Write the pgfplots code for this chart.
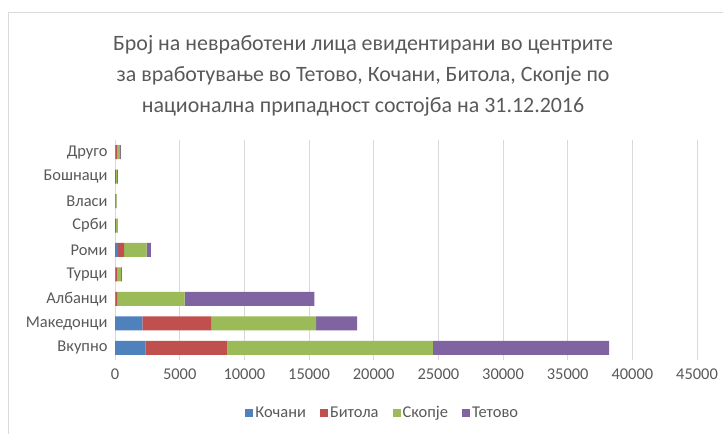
\documentclass[border=0pt]{standalone}
\usepackage{pgfplots}
\pgfplotsset{compat=1.18}
\usepackage{fontspec}
\setmainfont{Carlito}
\definecolor{cKoc}{HTML}{4F81BD}
\definecolor{cBit}{HTML}{C0504D}
\definecolor{cSko}{HTML}{9BBB59}
\definecolor{cTet}{HTML}{8064A2}
\definecolor{txtgray}{HTML}{595959}
\definecolor{gridgray}{HTML}{D9D9D9}
\begin{document}
\begin{tikzpicture}[x=1bp,y=1bp]
\path[use as bounding box] (0,0) rectangle (723,434);
\draw[gridgray, line width=1bp] (8,0) -- (8,421) -- (723,421);
\node[align=center, text=txtgray, font=\fontsize{22}{31}\selectfont] at (363,358)
  {Број на невработени лица евидентирани во центрите\\
   за вработување во Тетово, Кочани, Битола, Скопје по\\
   национална припадност состојба на 31.12.2016};
\begin{axis}[
  at={(115bp,74bp)}, anchor=south west,
  scale only axis, width=582bp, height=220bp,
  xbar stacked, bar width=14bp,
  xmin=0, xmax=45000, ymin=-0.5, ymax=8.5,
  xtick={0,5000,...,45000},
  ytick={0,...,8},
  yticklabels={Вкупно,Македонци,Албанци,Турци,Роми,Срби,Власи,Бошнаци,Друго},
  scaled x ticks=false,
  /pgf/number format/assume math mode=true,
  xticklabel={\pgfmathprintnumber[fixed,1000 sep={}]{\tick}},
  xmajorgrids, grid style={gridgray, line width=0.7bp},
  axis lines*=left,
  y axis line style={gridgray, line width=0.8bp},
  x axis line style={draw=none},
  major tick length=0pt,
  tick label style={text=txtgray, font=\fontsize{16.5}{18}\selectfont},
  yticklabel style={xshift=-4bp},
  xticklabel style={yshift=-5bp},
  legend columns=4,
  legend style={draw=none, at={(0.46,-0.241)}, anchor=center,
    font=\fontsize{16.5}{18}\selectfont, text=txtgray,
    nodes={inner xsep=2bp}},
  legend image code/.code={\fill[#1] (0bp,-4bp) rectangle (8bp,4bp);},
]
\addplot[fill=cKoc, draw=none] coordinates {(2350,0) (2110,1) (20,2) (20,3) (250,4) (10,5) (10,6) (10,7) (30,8)};
\addlegendentry{Кочани\hspace*{12bp}}
\addplot[fill=cBit, draw=none] coordinates {(6330,0) (5330,1) (150,2) (130,3) (450,4) (60,5) (40,6) (60,7) (150,8)};
\addlegendentry{Битола\hspace*{12bp}}
\addplot[fill=cSko, draw=none] coordinates {(15890,0) (8110,1) (5220,2) (330,3) (1750,4) (110,5) (80,6) (100,7) (220,8)};
\addlegendentry{Скопје\hspace*{12bp}}
\addplot[fill=cTet, draw=none] coordinates {(13640,0) (3180,1) (10030,2) (60,3) (330,4) (50,5) (20,6) (60,7) (60,8)};
\addlegendentry{Тетово}
\end{axis}
\end{tikzpicture}
\end{document}
